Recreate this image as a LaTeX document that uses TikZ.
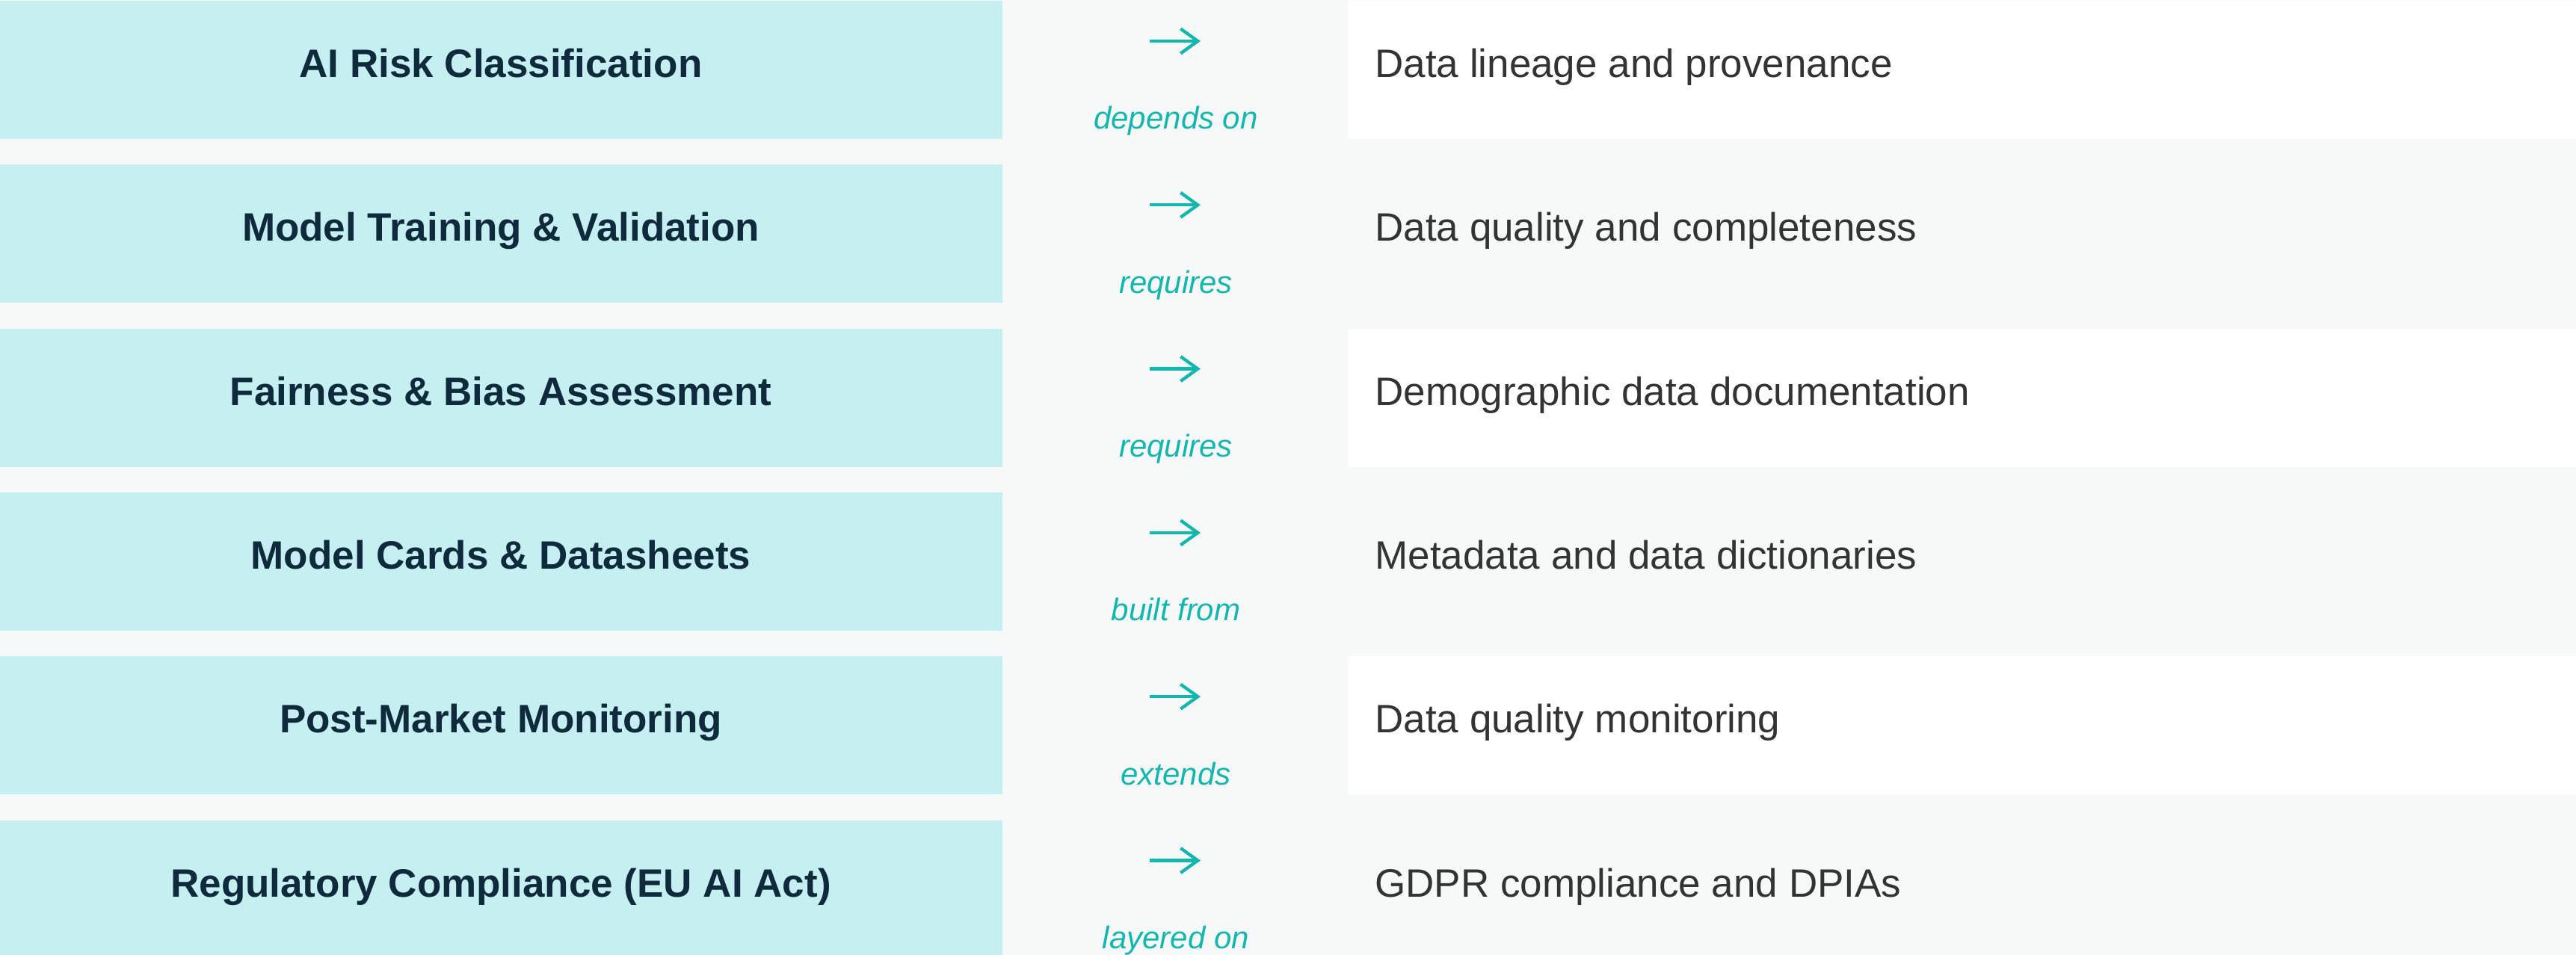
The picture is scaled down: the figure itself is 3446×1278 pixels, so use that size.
\documentclass[tikz,border=0pt]{standalone}
\usepackage{fontspec}
\setmainfont{Liberation Sans}
\usetikzlibrary{arrows.meta}

\definecolor{pagebg}{HTML}{F7F9F9}
\definecolor{rowcyan}{HTML}{C5EFF1}
\definecolor{navytext}{HTML}{0E2A3C}
\definecolor{tealtext}{HTML}{14B6B0}
\definecolor{greytext}{HTML}{333333}

\tikzset{
  practice/.style={anchor=base, inner sep=0pt, text=navytext,
    font=\fontsize{26.5}{32}\selectfont\bfseries},
  datatask/.style={anchor=base west, inner sep=0pt, text=greytext,
    font=\fontsize{26.5}{32}\selectfont},
  relation/.style={anchor=base, inner sep=0pt, text=tealtext,
    font=\fontsize{21}{25}\selectfont\itshape},
  relarrow/.style={draw=tealtext, line width=2.15pt,
    -{Straight Barb[length=11.5pt, width=16.5pt]}}
}

\begin{document}
\begin{tikzpicture}[x=0.5pt,y=0.5pt]

    \def\rowh{185}
    \def\rowA{-1}
    \def\rowB{-220.3}
    \def\rowC{-439.6}
    \def\rowD{-658.9}
    \def\rowE{-878.2}
    \def\rowF{-1097.5}

    % page
    \useasboundingbox (0,0) rectangle (3446,-1278);
    \fill[pagebg] (0,0) rectangle (3446,-1278);

    % row 1
    \fill[rowcyan] (0,\rowA) rectangle (1341,\rowA-\rowh);
    \fill[white] (1803,\rowA) rectangle (3446,\rowA-\rowh);
    \node[practice] (risk) at (670,\rowA-102.5) {AI Risk Classification};
    \coordinate (riskS) at (1538,\rowA-54);
    \coordinate (riskE) at (1606,\rowA-54);
    \draw[relarrow] (riskS) -- (riskE);
    \node[relation] (riskrel) at (1573,\rowA-172) {depends on};
    \node[datatask] (lineage) at (1839,\rowA-102.5) {Data lineage and provenance};

    % row 2
    \fill[rowcyan] (0,\rowB) rectangle (1341,\rowB-\rowh);
    \node[practice] (training) at (670,\rowB-102.5) {Model Training \& Validation};
    \coordinate (trainingS) at (1538,\rowB-54);
    \coordinate (trainingE) at (1606,\rowB-54);
    \draw[relarrow] (trainingS) -- (trainingE);
    \node[relation] (trainingrel) at (1573,\rowB-172) {requires};
    \node[datatask] (quality) at (1839,\rowB-102.5) {Data quality and completeness};

    % row 3
    \fill[rowcyan] (0,\rowC) rectangle (1341,\rowC-\rowh);
    \fill[white] (1803,\rowC) rectangle (3446,\rowC-\rowh);
    \node[practice] (fairness) at (670,\rowC-102.5) {Fairness \& Bias Assessment};
    \coordinate (fairnessS) at (1538,\rowC-54);
    \coordinate (fairnessE) at (1606,\rowC-54);
    \draw[relarrow] (fairnessS) -- (fairnessE);
    \node[relation] (fairnessrel) at (1573,\rowC-172) {requires};
    \node[datatask] (demographic) at (1839,\rowC-102.5) {Demographic data documentation};

    % row 4
    \fill[rowcyan] (0,\rowD) rectangle (1341,\rowD-\rowh);
    \node[practice] (cards) at (670,\rowD-102.5) {Model Cards \& Datasheets};
    \coordinate (cardsS) at (1538,\rowD-54);
    \coordinate (cardsE) at (1606,\rowD-54);
    \draw[relarrow] (cardsS) -- (cardsE);
    \node[relation] (cardsrel) at (1573,\rowD-172) {built from};
    \node[datatask] (metadata) at (1839,\rowD-102.5) {Metadata and data dictionaries};

    % row 5
    \fill[rowcyan] (0,\rowE) rectangle (1341,\rowE-\rowh);
    \fill[white] (1803,\rowE) rectangle (3446,\rowE-\rowh);
    \node[practice] (monitoring) at (670,\rowE-102.5) {Post-Market Monitoring};
    \coordinate (monitoringS) at (1538,\rowE-54);
    \coordinate (monitoringE) at (1606,\rowE-54);
    \draw[relarrow] (monitoringS) -- (monitoringE);
    \node[relation] (monitoringrel) at (1573,\rowE-172) {extends};
    \node[datatask] (dqmon) at (1839,\rowE-102.5) {Data quality monitoring};

    % row 6 (runs off the bottom edge)
    \fill[rowcyan] (0,\rowF) rectangle (1341,-1278);
    \node[practice] (compliance) at (670,\rowF-102.5) {Regulatory Compliance (EU AI Act)};
    \coordinate (complianceS) at (1538,\rowF-54);
    \coordinate (complianceE) at (1606,\rowF-54);
    \draw[relarrow] (complianceS) -- (complianceE);
    \node[relation] (compliancerel) at (1573,\rowF-172) {layered on};
    \node[datatask] (gdpr) at (1839,\rowF-102.5) {GDPR compliance and DPIAs};

\end{tikzpicture}
\end{document}
